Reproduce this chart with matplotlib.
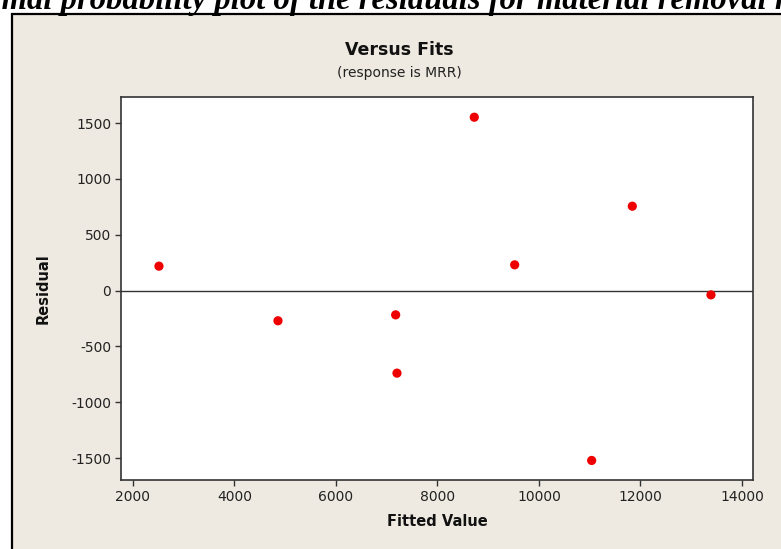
import numpy as np
import matplotlib
matplotlib.use("Agg")
from matplotlib import pyplot as plt
from matplotlib.patches import Rectangle

plt.rcParams["axes.unicode_minus"] = False

# residuals vs fitted values
fitted = [2512, 4857, 7176, 7202, 8725, 9521, 11038, 11839, 13389]
residual = [218, -271, -218, -740, 1552, 230, -1522, 755, -39]

x_ticks = [2000, 4000, 6000, 8000, 10000, 12000, 14000]
y_ticks = [-1500, -1000, -500, 0, 500, 1000, 1500]

caption = "Normal probability plot of the residuals for material removal rate"

W, H = 781, 549
fig = plt.figure(figsize=(W / 100, H / 100), dpi=100)
fig.patch.set_facecolor("white")

# beige Minitab frame, cut off on the right and bottom
frame = Rectangle((12 / W, -0.05), 1.1, 1 - 14 / H + 0.05, transform=fig.transFigure,
                  facecolor="#efeae1", edgecolor="black", linewidth=1.6, zorder=-5)
fig.patches.append(frame)

# caption from the document page, mostly cut off at the top
cap_kw = dict(family="Liberation Serif", fontsize=23.5, fontweight="bold", style="italic")
probe = fig.text(0, 0, "Nor", **cap_kw)
fig.canvas.draw()
off = probe.get_window_extent().width
probe.remove()
fig.text((2 - off) / W, 1 - 9 / H, caption, ha="left", va="baseline", zorder=-4, **cap_kw)

ax = fig.add_axes([121 / W, 1 - 480 / H, (753 - 121) / W, (480 - 97) / H])
ax.set_zorder(2)
ax.set_facecolor("white")

ax.axhline(0, color="#333333", linewidth=1.0, zorder=1)
ax.scatter(fitted, residual, s=44, color="#ee0000", edgecolors="none", zorder=3)

ax.set_xlim(1764, 14217)
ax.set_ylim(-1697, 1733)
ax.set_xticks(x_ticks)
ax.set_yticks(y_ticks)

for sp in ax.spines.values():
    sp.set_color("#333333")
    sp.set_linewidth(1.2)
ax.tick_params(direction="out", length=4, width=1, colors="#333333",
               labelcolor="#222222", labelsize=10, pad=3)

ax.set_xlabel("Fitted Value", fontsize=10.5, fontweight="bold", color="#111111", va="center")
ax.set_ylabel("Residual", fontsize=10.5, fontweight="bold", color="#111111", va="center")
ax.xaxis.set_label_coords(0.5, (480 - 522) / 383)
ax.yaxis.set_label_coords((43 - 121) / 632, 0.5)

fig.text(399 / W, 1 - 50 / H, "Versus Fits", ha="center", va="center",
         fontsize=12.5, fontweight="bold", color="#111111")
fig.text(399 / W, 1 - 73 / H, "(response is MRR)", ha="center", va="center",
         fontsize=10, color="#222222")

fig.savefig("out.png", dpi=100)
